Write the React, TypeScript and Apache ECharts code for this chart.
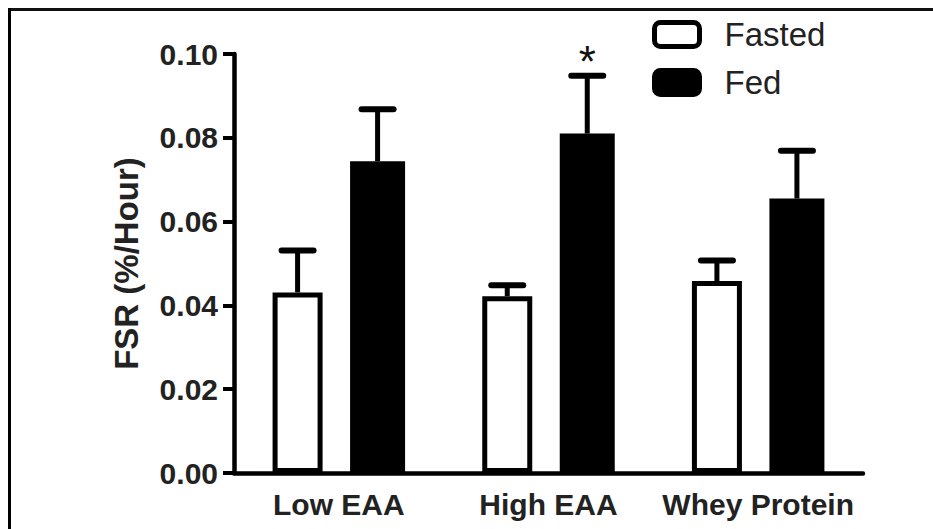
import React, { useEffect, useRef } from "react";
import * as echarts from "echarts";

const categories = ["Low EAA", "High EAA", "Whey Protein"];
const fastedMeans = [0.0431, 0.0422, 0.0458];
const fastedErrors = [0.0100, 0.0026, 0.0049];
const fedMeans = [0.0744, 0.0810, 0.0655];
const fedErrors = [0.0124, 0.0138, 0.0114];
const significance = ["", "*", ""];
const yTicks = { min: 0, max: 0.1, interval: 0.02 };

const FASTED_W = 50;
const FED_W = 55;
const GAP_PCT = 0.55;
const TOTAL_W = FASTED_W * (1 + GAP_PCT) + FED_W;
const FASTED_OFF = -TOTAL_W / 2 + FASTED_W / 2;
const FED_OFF = -TOTAL_W / 2 + FASTED_W * (1 + GAP_PCT) + FED_W / 2;

const FONT = "'Liberation Sans', Arial, Helvetica, sans-serif";

function errorRenderer(offset: number, withSig: boolean) {
  return (params: any, api: any) => {
    const i = api.value(0);
    const v = api.value(1);
    const e = api.value(2);
    const base = api.coord([i, v]);
    const top = api.coord([i, v + e]);
    const x = base[0] + offset;
    const children: any[] = [
      {
        type: "line",
        shape: { x1: x, y1: base[1], x2: x, y2: top[1] },
        style: { stroke: "#000", lineWidth: 5 },
      },
      {
        type: "line",
        shape: { x1: x - 16, y1: top[1], x2: x + 16, y2: top[1] },
        style: { stroke: "#000", lineWidth: 6, lineCap: "round" },
      },
    ];
    const sig = withSig ? significance[params.dataIndex] : "";
    if (sig) {
      children.push({
        type: "text",
        x: x,
        y: top[1] - 14,
        style: {
          text: sig,
          fontSize: 44,
          fontFamily: FONT,
          fill: "#111",
          align: "center",
          verticalAlign: "middle",
        },
      });
    }
    return { type: "group", children };
  };
}

export default function App() {
  const ref = useRef<HTMLDivElement>(null);
  useEffect(() => {
    if (!ref.current) return;
    const chart = echarts.init(ref.current, null, { renderer: "svg" });
    chart.setOption({
      animation: false,
      backgroundColor: "#fff",
      grid: {
        left: 234,
        right: 70,
        top: 54,
        bottom: 56,
        containLabel: false,
        outerBoundsMode: "none",
      },
      legend: {
        orient: "vertical",
        left: 652,
        top: 18,
        padding: 0,
        itemWidth: 45,
        itemHeight: 24,
        itemGap: 15,
        icon: "roundRect",
        textStyle: {
          fontFamily: FONT,
          fontSize: 33,
          color: "#222",
          padding: [0, 0, 0, 20],
        },
        data: [
          {
            name: "Fasted",
            itemStyle: { color: "#fff", borderColor: "#000", borderWidth: 5 },
          },
          {
            name: "Fed",
            itemStyle: { color: "#000", borderColor: "#000", borderWidth: 5 },
          },
        ],
      },
      xAxis: {
        type: "category",
        data: categories,
        axisLine: { lineStyle: { color: "#000", width: 4.5 } },
        axisTick: {
          alignWithLabel: true,
          length: 15,
          lineStyle: { color: "#000", width: 3.5 },
        },
        axisLabel: {
          margin: 16,
          fontFamily: FONT,
          fontSize: 30,
          fontWeight: "bold",
          color: "#222",
          interval: 0,
        },
        splitLine: { show: false },
      },
      yAxis: {
        type: "value",
        min: yTicks.min,
        max: yTicks.max,
        interval: yTicks.interval,
        name: "FSR (%/Hour)",
        nameLocation: "middle",
        nameGap: 91,
        nameTextStyle: {
          fontFamily: FONT,
          fontSize: 33,
          fontWeight: "bold",
          color: "#222",
        },
        axisLine: { show: true, lineStyle: { color: "#000", width: 4.5 } },
        axisTick: { show: true, length: 11, lineStyle: { color: "#000", width: 4 } },
        axisLabel: {
          margin: 16,
          fontFamily: FONT,
          fontSize: 30,
          fontWeight: "bold",
          color: "#222",
          formatter: (v: number) => v.toFixed(2),
        },
        splitLine: { show: false },
      },
      graphic: [
        {
          type: "line",
          shape: { x1: 8, y1: 9.5, x2: 933, y2: 9.5 },
          style: { stroke: "#111", lineWidth: 3 },
        },
        {
          type: "line",
          shape: { x1: 9.5, y1: 8, x2: 9.5, y2: 529 },
          style: { stroke: "#000", lineWidth: 3 },
        },
      ],
      series: [
        {
          name: "Fasted",
          type: "bar",
          data: fastedMeans,
          barWidth: FASTED_W,
          barGap: GAP_PCT * 100 + "%",
          itemStyle: { color: "#fff", borderColor: "#000", borderWidth: 5 },
        },
        {
          name: "Fed",
          type: "bar",
          data: fedMeans,
          barWidth: FED_W,
          barGap: GAP_PCT * 100 + "%",
          itemStyle: { color: "#000" },
        },
        {
          name: "Fasted error",
          type: "custom",
          data: fastedMeans.map((m, i) => [i, m, fastedErrors[i]]),
          renderItem: errorRenderer(FASTED_OFF, false),
          z: 3,
        },
        {
          name: "Fed error",
          type: "custom",
          data: fedMeans.map((m, i) => [i, m, fedErrors[i]]),
          renderItem: errorRenderer(FED_OFF, true),
          z: 3,
        },
      ],
    });
    return () => chart.dispose();
  }, []);
  return (
    <div
      ref={ref}
      style={{ position: "fixed", left: 0, top: 0, width: 933, height: 529 }}
    />
  );
}
